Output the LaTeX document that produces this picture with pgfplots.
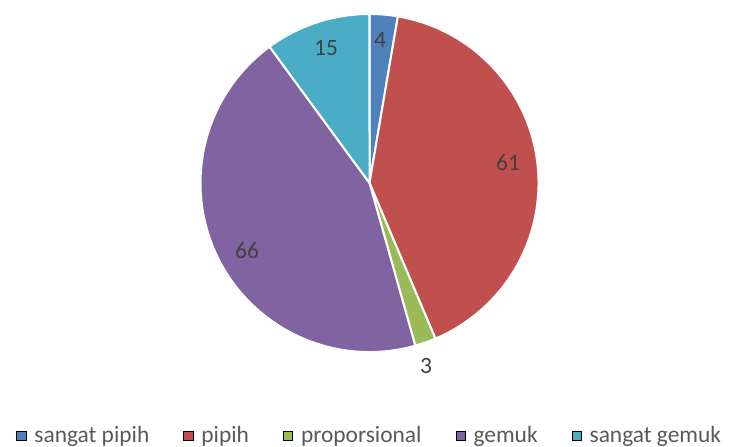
\documentclass[border=0pt]{standalone}
\usepackage{fontspec}
\setmainfont{Carlito}
\usepackage{pgfplots}
\usepackage{pgfplotstable}
\pgfplotsset{compat=1.18}

\definecolor{cA}{HTML}{4F81BD}
\definecolor{cB}{HTML}{C0504D}
\definecolor{cC}{HTML}{9BBB59}
\definecolor{cD}{HTML}{8064A2}
\definecolor{cE}{HTML}{4BACC6}
\definecolor{labtxt}{HTML}{404040}
\definecolor{legtxt}{HTML}{595959}

% slices in clockwise order from 12 o'clock; lx/ly = data label position (px)
\pgfplotstableread{
name value color lx ly
{sangat pipih} 4 cA 380 40
pipih 61 cB 508 163
proporsional 3 cC 426 366
gemuk 66 cD 247 251
{sangat gemuk} 15 cE 326 48
}\piedata

\begin{document}
\begin{tikzpicture}[font=\fontsize{11.7pt}{14pt}\selectfont]
\begin{axis}[
  name=ax,
  x=0.5pt, y=0.5pt,
  xmin=0, xmax=731, ymin=0, ymax=446,
  hide axis, clip=false,
  legend columns=5,
  legend style={draw=none, fill=none, inner sep=0pt,
    at={(axis cs:16,10)}, anchor=west,
    text=legtxt, font=\fontsize{11.7pt}{14pt}\selectfont,
    /tikz/every odd column/.append style={column sep=2pt},
    /tikz/every even column/.append style={column sep=15pt}},
  legend image code/.code={\fill[#1] (0pt,-2.3pt) rectangle (4.6pt,2.3pt);},
]
\path (axis cs:0,0) rectangle (axis cs:731,446);

% total of all slices
\def\pietotal{0}
\pgfplotsforeachungrouped \i in {0,...,4}{%
  \pgfplotstablegetelem{\i}{value}\of\piedata
  \pgfmathsetmacro\pietotal{\pietotal+\pgfplotsretval}%
}

\def\angA{90}
\pgfplotsforeachungrouped \i in {0,...,4}{%
  \pgfplotstablegetelem{\i}{value}\of\piedata \let\val\pgfplotsretval
  \pgfplotstablegetelem{\i}{color}\of\piedata \let\col\pgfplotsretval
  \pgfplotstablegetelem{\i}{lx}\of\piedata \let\lx\pgfplotsretval
  \pgfplotstablegetelem{\i}{ly}\of\piedata \let\ly\pgfplotsretval
  \pgfmathsetmacro\angB{\angA-\val/\pietotal*360}%
  \pgfmathsetmacro\lyy{446-\ly}%
  \edef\temp{%
    \noexpand\fill[\col, draw=white, line width=1pt, line join=round]
      (axis cs:369.5,263) -- ++(\angA:84.5pt)
      arc[start angle=\angA, end angle=\angB, radius=84.5pt] -- cycle;
    \noexpand\node[text=labtxt] at (axis cs:\lx,\lyy) {\val};
  }\temp
  \let\angA\angB
}

\addlegendimage{fill=cA}\addlegendentry{sangat pipih}
\addlegendimage{fill=cB}\addlegendentry{pipih}
\addlegendimage{fill=cC}\addlegendentry{proporsional}
\addlegendimage{fill=cD}\addlegendentry{gemuk}
\addlegendimage{fill=cE}\addlegendentry{sangat gemuk}
\end{axis}
\pgfresetboundingbox
\path[use as bounding box] (ax.south west) rectangle (ax.north east);
\end{tikzpicture}
\end{document}
